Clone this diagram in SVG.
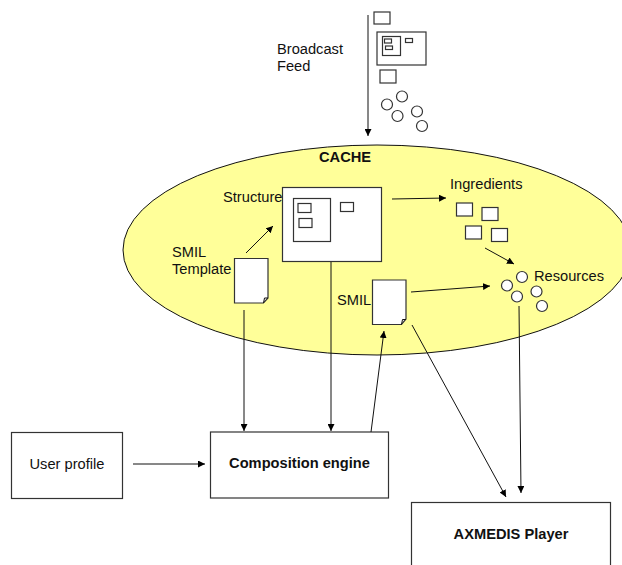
<svg xmlns="http://www.w3.org/2000/svg" width="622" height="565" viewBox="0 0 622 565">
<style>
text{font-family:"Liberation Sans",Arial,sans-serif;font-size:14.67px;fill:#111}
.b{font-weight:bold}
.s{fill:#fff;stroke:#333;stroke-width:1.2}
.o{fill:none;stroke:#333;stroke-width:1.2}
.l{fill:none;stroke:#111;stroke-width:1;marker-end:url(#a)}
.n{fill:none;stroke:#111;stroke-width:1}
</style>
<defs>
<marker id="a" markerUnits="userSpaceOnUse" markerWidth="8" markerHeight="7" refX="7" refY="3.500" orient="auto"><path d="M0,0L7,3.500L0,7z" fill="#000"/></marker>
</defs>
<rect width="622" height="565" fill="#fff"/>
<g id="cache"><ellipse cx="377" cy="250" rx="254" ry="105" fill="#ffff99" stroke="#111" stroke-width="1"/><text class="b" x="319" y="162">CACHE</text></g>
<g id="broadcast">
<text x="277" y="54">Broadcast</text><text x="277" y="71">Feed</text>
<rect class="s" x="374" y="12" width="16" height="12"/>
<rect class="s" x="377" y="32" width="49" height="33"/>
<rect class="o" x="382.500" y="36.500" width="18" height="19"/>
<rect class="o" x="384.500" y="39" width="7" height="4"/>
<rect class="o" x="385.500" y="46" width="7" height="3.500"/>
<rect class="o" x="405.500" y="38.500" width="7" height="4"/>
<rect class="s" x="380" y="70" width="16" height="13"/>
<g class="o"><circle cx="402" cy="96.500" r="5.500"/><circle cx="387" cy="104.500" r="5.500"/><circle cx="397.500" cy="116" r="5.500"/><circle cx="417" cy="111.500" r="5.500"/><circle cx="422" cy="126" r="5.500"/></g>
</g>
<g id="structure">
<text x="223" y="202">Structure</text>
<rect class="s" x="282.500" y="187.500" width="99" height="74"/>
<rect class="s" x="293.500" y="198.500" width="37" height="43"/>
<rect class="o" x="298" y="203.500" width="13" height="9"/>
<rect class="o" x="299" y="218.500" width="13" height="9"/>
<rect class="o" x="340.500" y="202.500" width="13" height="9"/>
</g>
<g id="smil-template">
<text x="172" y="257">SMIL</text><text x="172" y="274">Template</text>
<path class="s" d="M234.500 258.500H268V298L263.500 303H234.500z"/><path class="n" d="M263.500 303L264.500 298H268"/>
</g>
<g id="smil">
<text x="337" y="305">SMIL</text>
<path class="s" d="M372.500 280H406V319L401.500 324.500H372.500z"/><path class="n" d="M401.500 324.500L402.500 319.500H406"/>
</g>
<g id="ingredients">
<text x="450" y="189">Ingredients</text>
<rect class="s" x="456.500" y="203" width="16" height="13"/>
<rect class="s" x="482" y="207.500" width="16" height="13"/>
<rect class="s" x="465.500" y="226" width="16" height="13"/>
<rect class="s" x="491.500" y="228.500" width="16" height="13"/>
</g>
<g id="resources">
<text x="534" y="281">Resources</text>
<g class="s"><circle cx="522" cy="277" r="5.500"/><circle cx="507" cy="285.500" r="5.500"/><circle cx="517" cy="296.500" r="5.500"/><circle cx="536.500" cy="291.500" r="5.500"/><circle cx="542" cy="306" r="5.500"/></g>
</g>
<g id="user-profile"><rect class="s" x="11.500" y="432.500" width="111" height="66"/><text x="67" y="469" text-anchor="middle">User profile</text></g>
<g id="composition-engine"><rect class="s" x="210.500" y="432" width="178" height="66"/><text class="b" x="299.500" y="468" text-anchor="middle">Composition engine</text></g>
<g id="player"><rect class="s" x="411.500" y="502.500" width="199" height="70"/><text class="b" x="511" y="539" text-anchor="middle">AXMEDIS Player</text></g>
<g id="connectors">
<path class="l" d="M368 15V136"/>
<path class="l" d="M246 253L273 226"/>
<path class="l" d="M392 199L446 198"/>
<path class="l" d="M485 248L514 264"/>
<path class="l" d="M411 292L490 286"/>
<path class="l" d="M244 310V431"/>
<path class="l" d="M331 262V431"/>
<path class="l" d="M371 432L384 331"/>
<path class="l" d="M412 325L506 497"/>
<path class="l" d="M519 306L521 493"/>
<path class="l" d="M133 464H205"/>
</g>
</svg>
